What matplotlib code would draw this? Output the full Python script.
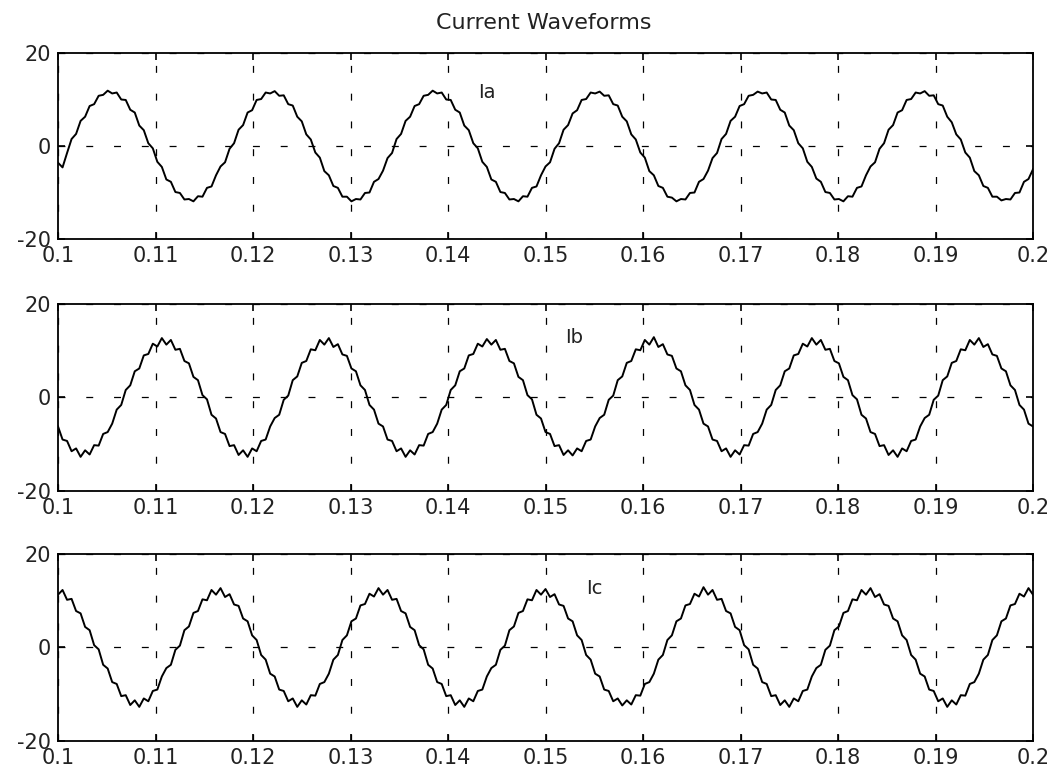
import numpy as np
import matplotlib
matplotlib.use('Agg')
import matplotlib.pyplot as plt

t_start, t_end = 0.1, 0.2

ia = [
    -3.6, -4.6, -1.5, 1.5, 2.6, 5.4, 6.3, 8.6, 9.0, 10.8, 11.0, 11.9, 11.3, 11.5, 10.0, 9.9, 7.8, 7.2,
    4.4, 3.4, 0.6, -0.5, -3.4, -4.5, -7.2, -7.7, -9.9, -10.1, -11.5, -11.4, -11.9, -10.8, -10.9, -9.0, -8.7, -6.3,
    -4.4, -3.5, -0.6, 0.6, 3.5, 4.5, 7.2, 7.7, 9.9, 10.1, 11.5, 11.3, 11.8, 10.8, 10.9, 9.0, 8.7, 6.3,
    5.3, 2.5, 1.4, -1.4, -2.5, -5.4, -6.3, -8.6, -9.0, -10.9, -10.9, -11.9, -11.4, -11.5, -10.1, -10.0, -7.7, -7.1,
    -5.3, -2.6, -1.5, 1.5, 2.6, 5.4, 6.3, 8.6, 9.0, 10.8, 11.0, 11.9, 11.3, 11.5, 10.0, 9.9, 7.8, 7.2,
    4.4, 3.4, 0.6, -0.5, -3.4, -4.5, -7.2, -7.7, -9.9, -10.1, -11.5, -11.4, -11.9, -10.8, -10.9, -9.0, -8.7, -6.3,
    -4.4, -3.5, -0.6, 0.6, 3.5, 4.5, 7.0, 7.7, 9.9, 10.1, 11.5, 11.3, 11.7, 10.8, 10.9, 9.0, 8.7, 6.3,
    5.3, 2.5, 1.4, -1.4, -2.5, -5.4, -6.3, -8.6, -9.0, -10.9, -11.1, -11.9, -11.4, -11.5, -10.1, -10.0, -7.7, -7.1,
    -5.3, -2.6, -1.5, 1.5, 2.6, 5.4, 6.3, 8.6, 9.0, 10.8, 11.0, 11.7, 11.3, 11.5, 10.0, 9.9, 7.8, 7.2,
    4.4, 3.4, 0.6, -0.5, -3.4, -4.5, -7.0, -7.7, -9.9, -10.1, -11.5, -11.4, -11.9, -10.8, -10.9, -9.0, -8.7, -6.3,
    -4.4, -3.5, -0.6, 0.6, 3.5, 4.5, 7.2, 7.7, 9.9, 10.1, 11.5, 11.3, 11.8, 10.8, 10.9, 9.0, 8.7, 6.3,
    5.1, 2.5, 1.4, -1.4, -2.5, -5.4, -6.3, -8.6, -9.0, -10.9, -10.9, -11.7, -11.4, -11.5, -10.1, -10.0, -7.7, -7.1,
    -5.0,
]

ib = [
    -6.2, -9.0, -9.3, -11.5, -10.9, -12.7, -11.3, -12.2, -10.2, -10.3, -7.8, -7.4,
    -5.6, -2.6, -1.6, 1.6, 2.6, 5.6, 6.2, 9.0, 9.3, 11.5, 10.9, 12.7, 11.3, 12.3, 10.2, 10.4, 7.8, 7.3,
    4.4, 3.7, 0.5, -0.4, -3.7, -4.5, -7.4, -7.8, -10.4, -10.2, -12.3, -11.3, -12.7, -10.9, -11.5, -9.3, -9.0, -6.2,
    -4.4, -3.7, -0.5, 0.4, 3.7, 4.5, 7.4, 7.8, 10.3, 10.1, 12.3, 11.3, 12.7, 10.8, 11.4, 9.2, 8.9, 6.2,
    5.6, 2.6, 1.6, -1.6, -2.6, -5.6, -6.2, -9.0, -9.3, -11.5, -10.9, -12.7, -11.3, -12.2, -10.2, -10.3, -7.8, -7.4,
    -5.6, -2.6, -1.6, 1.6, 2.6, 5.6, 6.2, 9.0, 9.3, 11.5, 10.9, 12.5, 11.3, 12.3, 10.2, 10.4, 7.8, 7.3,
    4.4, 3.7, 0.5, -0.4, -3.7, -4.5, -7.4, -7.8, -10.4, -10.2, -12.3, -11.3, -12.4, -10.9, -11.5, -9.3, -9.0, -6.2,
    -4.4, -3.7, -0.5, 0.4, 3.7, 4.5, 7.4, 7.8, 10.3, 10.1, 12.3, 11.3, 12.9, 10.8, 11.4, 9.2, 8.9, 6.2,
    5.6, 2.6, 1.6, -1.6, -2.6, -5.6, -6.2, -9.0, -9.3, -11.5, -10.9, -12.7, -11.3, -12.2, -10.2, -10.3, -7.8, -7.4,
    -5.6, -2.6, -1.6, 1.6, 2.6, 5.6, 6.2, 9.0, 9.3, 11.5, 10.9, 12.7, 11.3, 12.3, 10.2, 10.4, 7.8, 7.3,
    4.4, 3.7, 0.5, -0.4, -3.7, -4.5, -7.4, -7.8, -10.4, -10.2, -12.3, -11.3, -12.7, -10.9, -11.5, -9.3, -9.0, -6.2,
    -4.4, -3.7, -0.5, 0.4, 3.7, 4.5, 7.4, 7.8, 10.3, 10.1, 12.3, 11.3, 12.7, 10.8, 11.4, 9.2, 8.9, 6.2,
    5.6, 2.6, 1.6, -1.6, -2.6, -5.6, -6.2,
]

ic = [
    11.3, 12.3, 10.2, 10.4, 7.8, 7.3, 4.4, 3.7, 0.5, -0.4, -3.7, -4.5,
    -7.4, -7.8, -10.4, -10.2, -12.3, -11.3, -12.7, -10.9, -11.5, -9.3, -9.0, -6.2,
    -4.4, -3.7, -0.5, 0.4, 3.7, 4.5, 7.4, 7.8, 10.3, 10.1, 12.3, 11.3, 12.7, 10.8, 11.4, 9.2, 8.9, 6.2,
    5.6, 2.6, 1.6, -1.6, -2.6, -5.6, -6.2, -9.0, -9.3, -11.5, -10.9, -12.7, -11.3, -12.2, -10.2, -10.3, -7.8, -7.4,
    -5.6, -2.6, -1.6, 1.6, 2.6, 5.6, 6.2, 9.0, 9.3, 11.5, 10.9, 12.7, 11.3, 12.3, 10.2, 10.4, 7.8, 7.3,
    4.4, 3.7, 0.5, -0.4, -3.7, -4.5, -7.4, -7.8, -10.4, -10.2, -12.3, -11.3, -12.7, -10.9, -11.5, -9.3, -9.0, -6.2,
    -4.4, -3.7, -0.5, 0.4, 3.7, 4.5, 7.4, 7.8, 10.3, 10.1, 12.3, 11.3, 12.5, 10.8, 11.4, 9.2, 8.9, 6.2,
    5.6, 2.6, 1.6, -1.6, -2.6, -5.6, -6.2, -9.0, -9.3, -11.5, -10.9, -12.4, -11.3, -12.2, -10.2, -10.3, -7.8, -7.4,
    -5.6, -2.6, -1.6, 1.6, 2.6, 5.6, 6.2, 9.0, 9.3, 11.5, 10.9, 12.9, 11.3, 12.3, 10.2, 10.4, 7.8, 7.3,
    4.4, 3.7, 0.5, -0.4, -3.7, -4.5, -7.4, -7.8, -10.4, -10.2, -12.3, -11.3, -12.7, -10.9, -11.5, -9.3, -9.0, -6.2,
    -4.4, -3.7, -0.5, 0.4, 3.7, 4.5, 7.4, 7.8, 10.3, 10.1, 12.3, 11.3, 12.7, 10.8, 11.4, 9.2, 8.9, 6.2,
    5.6, 2.6, 1.6, -1.6, -2.6, -5.6, -6.2, -9.0, -9.3, -11.5, -10.9, -12.7, -11.3, -12.2, -10.2, -10.3, -7.8, -7.4,
    -5.6, -2.6, -1.6, 1.6, 2.6, 5.6, 6.2, 9.0, 9.3, 11.5, 10.9, 12.7, 11.3,
]

series = [ia, ib, ic]
series_labels = ['Ia', 'Ib', 'Ic']
label_pos = [(0.1431, 10.3), (0.1520, 11.6), (0.1542, 11.4)]
xticks = [0.1, 0.11, 0.12, 0.13, 0.14, 0.15, 0.16, 0.17, 0.18, 0.19, 0.2]
xticklabels = ['0.1', '0.11', '0.12', '0.13', '0.14', '0.15', '0.16', '0.17', '0.18', '0.19', '0.2']
yticks = [-20, 0, 20]
yticklabels = ['-20', '0', '20']
title = 'Current Waveforms'

# ---- style ----
plt.rcParams['font.family'] = ['DejaVu Sans']
plt.rcParams['lines.scale_dashes'] = False

fig = plt.figure(figsize=(10.57, 7.76), dpi=100)
fig.patch.set_facecolor('white')

positions = [
    [0.0549, 0.692, 0.9224, 0.2397],
    [0.0549, 0.3673, 0.9224, 0.241],
    [0.0549, 0.0451, 0.9224, 0.241],
]

for pos, y, lab, lp in zip(positions, series, series_labels, label_pos):
    ax = fig.add_axes(pos)
    t = np.linspace(t_start, t_end, len(y))
    ax.plot(t, y, color='black', linewidth=1.4)
    ax.set_xlim(t_start, t_end)
    ax.set_ylim(-20, 20)
    ax.set_xticks(xticks)
    ax.set_xticklabels(xticklabels)
    ax.set_yticks(yticks)
    ax.set_yticklabels(yticklabels)
    ax.grid(True, color='black', linestyle=(0, (5, 15)), linewidth=0.9)
    ax.tick_params(direction='in', top=True, right=True, length=5, width=1.2,
                   labelsize=15, pad=5, colors='black')
    for tl in ax.get_xticklabels() + ax.get_yticklabels():
        tl.set_color('#222222')
    for s in ax.spines.values():
        s.set_linewidth(1.3)
        s.set_color('black')
    ax.text(lp[0], lp[1], lab, fontsize=14, va='baseline', ha='left', color='#222222')

fig.text(0.5142, 0.9626, title, ha='center', va='baseline', fontsize=16, color='#222222')

fig.savefig('out.png', dpi=100, facecolor='white')
